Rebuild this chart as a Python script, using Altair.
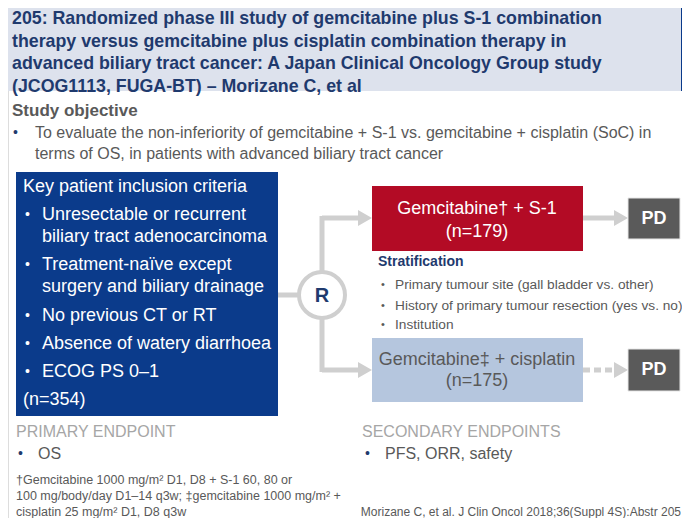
import altair as alt
import pandas as pd

# ---------------- content ----------------
title_lines = [
    "205: Randomized phase III study of gemcitabine plus S-1 combination",
    "therapy versus gemcitabine plus cisplatin combination therapy in",
    "advanced biliary tract cancer: A Japan Clinical Oncology Group study",
    "(JCOG1113, FUGA-BT) – Morizane C, et al",
]
objective_head = "Study objective"
objective_lines = [
    "To evaluate the non-inferiority of gemcitabine + S-1 vs. gemcitabine + cisplatin (SoC) in",
    "terms of OS, in patients with advanced biliary tract cancer",
]
criteria_head = "Key patient inclusion criteria"
criteria_lines = [
    "Unresectable or recurrent",
    "biliary tract adenocarcinoma",
    "Treatment-naïve except",
    "surgery and biliary drainage",
    "No previous CT or RT",
    "Absence of watery diarrhoea",
    "ECOG PS 0–1",
]
criteria_bullet_rows = [0, 2, 4, 5, 6]
criteria_n = "(n=354)"
arm1_lines = ["Gemcitabine† + S-1", "(n=179)"]
arm2_lines = ["Gemcitabine‡ + cisplatin", "(n=175)"]
pd_label = "PD"
rand_label = "R"
strat_head = "Stratification"
strat_lines = [
    "Primary tumour site (gall bladder vs. other)",
    "History of primary tumour resection (yes vs. no)",
    "Institution",
]
primary_head = "PRIMARY ENDPOINT"
primary_items = ["OS"]
secondary_head = "SECONDARY ENDPOINTS"
secondary_items = ["PFS, ORR, safety"]
footnote_lines = [
    "†Gemcitabine 1000 mg/m² D1, D8 + S-1 60, 80 or",
    "100 mg/body/day D1–14 q3w; ‡gemcitabine 1000 mg/m² +",
    "cisplatin 25 mg/m² D1, D8 q3w",
]
citation = "Morizane C, et al. J Clin Oncol 2018;36(Suppl 4S):Abstr 205"

# ---------------- layout (window pixel coordinates) ----------------
W, H = 674, 510
XS = alt.Scale(domain=[8, 8 + W], nice=False, zero=False)
YS = alt.Scale(domain=[8, 8 + H], nice=False, zero=False, reverse=True)

SANS = "Liberation Sans, Arial, Helvetica, sans-serif"
GREY = "#595959"
LIGHTGREY = "#a6a6a6"
NAVY = "#1f3a6e"
BOXBLUE = "#0b3b8b"
RED = "#b30b25"
PALE = "#b5c6de"
PDGREY = "#5a5a5a"
LINE = "#cfcfcf"


def X(f="x"):
    return alt.X(f"{f}:Q", scale=XS, axis=None)


def Y(f="y"):
    return alt.Y(f"{f}:Q", scale=YS, axis=None)


def rects(rows, color, **kw):
    df = pd.DataFrame(rows, columns=["x", "x2", "y", "y2"])
    return alt.Chart(df).mark_rect(color=color, **kw).encode(
        x=X(), x2="x2:Q", y=Y(), y2="y2:Q"
    )


def texts(xs_, ys_, labels, **kw):
    df = pd.DataFrame({"x": xs_, "y": ys_, "t": labels})
    base = dict(baseline="middle", align="left", font=SANS)
    base.update(kw)
    return alt.Chart(df).mark_text(**base).encode(x=X(), y=Y(), text="t:N")


def hrules(rows, **kw):
    df = pd.DataFrame(rows, columns=["x", "x2", "y"])
    return alt.Chart(df).mark_rule(color=LINE, strokeWidth=5, **kw).encode(
        x=X(), x2="x2:Q", y=Y()
    )


def vrules(rows, **kw):
    df = pd.DataFrame(rows, columns=["x", "y", "y2"])
    return alt.Chart(df).mark_rule(color=LINE, strokeWidth=5, **kw).encode(
        x=X(), y=Y(), y2="y2:Q"
    )


layers = []

# header band
layers.append(rects([[0, 681, 0, 91]], "#dde2ed"))
layers.append(rects([[681, 690, 0, 91]], "#0a3a8a"))
layers.append(texts([12] * 4, [19, 41.5, 64, 86.5], title_lines,
                    fontSize=17.8, fontWeight="bold", color=NAVY))

# objective
layers.append(texts([12], [111], [objective_head], fontSize=17,
                    fontWeight="bold", color=GREY))
layers.append(texts([13], [133], ["•"], fontSize=14, color=NAVY))
layers.append(texts([35, 35], [133, 154], objective_lines,
                    fontSize=16, color=GREY))

# inclusion box
layers.append(rects([[16, 278, 172, 416]], BOXBLUE))
crit_y = [215, 237, 265, 287, 316, 344, 372]
layers.append(texts([23], [187], [criteria_head], fontSize=18, color="white"))
layers.append(texts([25] * len(criteria_bullet_rows),
                    [crit_y[i] for i in criteria_bullet_rows],
                    ["•"] * len(criteria_bullet_rows), fontSize=14, color="white"))
layers.append(texts([42] * len(criteria_lines), crit_y, criteria_lines,
                    fontSize=18, color="white"))
layers.append(texts([23], [400], [criteria_n], fontSize=18, color="white"))

# connector lines
layers.append(hrules([[278, 300, 295], [322, 362, 218], [322, 362, 370],
                      [583, 616, 218]]))
layers.append(hrules([[583, 616, 370]], strokeDash=[7, 4]))
layers.append(vrules([[322, 216, 275], [322, 315, 372]]))
heads = pd.DataFrame({"x": [365, 365, 621, 621], "y": [218, 370, 218, 370]})
layers.append(alt.Chart(heads).mark_point(shape="triangle-right", filled=True,
                                          color=LINE, size=260, opacity=1)
              .encode(x=X(), y=Y()))
circ = pd.DataFrame({"x": [322], "y": [295], "t": [rand_label]})
layers.append(alt.Chart(circ).mark_point(shape="circle", filled=False, fill="white",
                                         fillOpacity=1, stroke=LINE, strokeWidth=4,
                                         size=2116, opacity=1)
              .encode(x=X(), y=Y()))
layers.append(texts([322], [296], [rand_label], align="center", fontSize=20,
                    fontWeight="bold", color=NAVY))

# arm boxes
layers.append(rects([[372, 583, 186, 251]], RED))
layers.append(rects([[372, 583, 338, 402]], PALE))
layers.append(texts([477, 477], [209, 232], arm1_lines, align="center",
                    fontSize=18, color="white"))
layers.append(texts([477, 477], [360, 381], arm2_lines, align="center",
                    fontSize=18, color=GREY))
layers.append(rects([[628, 680, 198, 239], [628, 680, 349, 391]], PDGREY,
                    stroke="#e6e6e6", strokeWidth=1))
layers.append(texts([654, 654], [219, 370], [pd_label, pd_label], align="center",
                    fontSize=18, fontWeight="bold", color="white"))

# stratification
layers.append(texts([378], [262], [strat_head], fontSize=14, fontWeight="bold",
                    color=NAVY))
strat_y = [285, 306, 325]
layers.append(texts([381] * 3, strat_y, ["•"] * 3, fontSize=11, color=GREY))
layers.append(texts([395] * 3, strat_y, strat_lines, fontSize=13.7,
                    color=GREY))

# endpoints
layers.append(texts([16, 362], [432, 432], [primary_head, secondary_head],
                    fontSize=16, color=LIGHTGREY))
layers.append(texts([18, 365], [454, 454], ["•", "•"], fontSize=14, color=NAVY))
layers.append(texts([38, 385], [454, 454], primary_items + secondary_items,
                    fontSize=16, color=GREY))

# footnotes
layers.append(texts([16] * 3, [480, 496, 512], footnote_lines,
                    fontSize=12.5, color=GREY))
layers.append(texts([681], [512], [citation], align="right",
                    fontSize=12, color=GREY))

chart = (
    alt.layer(*layers)
    .properties(width=W, height=H, padding=0, autosize=alt.AutoSizeParams(type="none"))
    .configure_view(stroke=None)
    .configure(background="white")
)

chart.save("out.html", embed_options={"renderer": "svg", "actions": False})
